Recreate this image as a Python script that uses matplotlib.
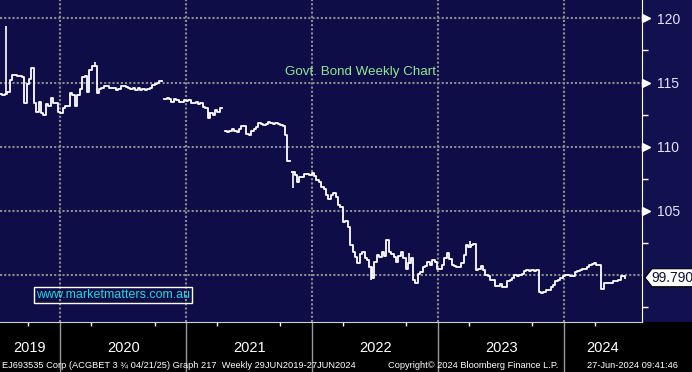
import matplotlib
matplotlib.use("Agg")
import matplotlib.pyplot as plt
import matplotlib.dates as mdates
import matplotlib.transforms as mtransforms
from matplotlib.patches import Polygon, Rectangle
import numpy as np
import pandas as pd

nan = np.nan

# weekly closes, NaN = break in the line
y2019 = [114.1, 114.1, 114.1, 114.0, 114.1, 114.3, 115.2, 115.6, 115.6, 115.5,
         115.5, 115.4, 113.4, 114.85, 115.3, 116.1, 113.4, 112.7, 113.5, 112.6,
         112.5, 113.3, 113.2, 113.8, 113.4, 113.4, 112.7]
y2020 = [112.6, 113.05, 113.2, 113.2, 114.2, 114.0, 113.2, 114.0, 114.5, 115.4,
         115.5, 114.3, 115.95, 116.3, 116.3, 114.2, 114.5, 114.6, 114.7, 114.7,
         114.6, 114.6, 114.6, 114.4, 114.5, 114.7, 114.7, 114.65, 114.6, 114.5,
         114.6, 114.4, 114.6, 114.4, 114.5, 114.4, 114.5, 114.6, 114.8, 114.9,
         115.0, 115.1, nan, 113.75, 113.8, 113.75, 113.5, 113.7, 113.6, 113.5,
         113.5, 113.6]
y2021 = [113.55, 113.6, 113.4, 113.4, 113.5, 113.35, 113.4, 113.1, 113.0, 112.2,
         112.6, 112.5, 112.85, 112.7, 113.0, nan, 111.2, 111.15, 111.2, 111.4,
         111.2, 111.15, 111.4, 111.6, 111.6, 110.95, 110.9, 111.2, 111.4, 111.5,
         111.85, 111.8, 111.7, 111.75, 111.9, 111.85, 111.75, 111.85, 111.8, 111.7,
         111.6, 110.9, 108.9, nan, 108.0, 107.8, 107.25, 107.65, 107.65, 107.9,
         107.85, 107.8]
y2022 = [107.95, 107.7, 107.4, 107.25, 106.85, 106.7, 106.2, 105.95, 106.2, 106.4,
         106.1, 105.45, 105.3, 104.15, 104.2, 103.75, 102.35, 101.8, 101.4, 100.9,
         101.6, 101.8, 101.3, 101.2, 100.6, 99.75, 101.05, 101.55, 101.4, 101.8,
         101.5, 102.7, 101.8, 101.65, 101.4, 101.05, 101.5, 101.8, 101.3, 100.5,
         100.9, 101.3, 99.6, 99.35, 100.1, 100.25, 100.6, 100.7, 101.05, 100.8,
         101.15, 101.05]
y2023 = [100.45, 100.45, 100.8, 101.3, 101.75, 101.25, 100.8, 100.7, 100.6, 100.65,
         100.9, 101.55, 102.35, 102.2, 102.35, 102.45, 100.4, 100.5, 100.7, 100.4,
         100.0, 99.9, 99.65, 99.6, 99.15, 99.15, 99.3, 99.1, 99.05, 99.5,
         99.6, 99.75, 100.0, 99.95, 100.0, 100.05, 100.35, 100.4, 100.35, 100.4,
         100.35, 100.4, 98.7, 98.6, 98.65, 98.8, 98.85, 99.05, 99.2, 99.5,
         99.6, 99.8]
y2024 = [99.9, 100.0, 100.0, 99.95, 99.95, 100.2, 100.35, 100.4, 100.45, 100.5,
         100.6, 100.8, 100.85, 100.9, 100.8, 100.75, 98.95, 99.35, 99.35, 99.4,
         99.4, 99.5, 99.55, 99.6, 99.9, 99.9, 99.79]

# intra-week extremes that stick out of the line (week index, low, high)
wick_week = [4, 41, 88, 123, 155, 171, 196]
wick_lo = [114.1, 116.3, 112.2, 106.8, 99.6, 100.9, 102.2]
wick_hi = [119.4, 116.6, 112.7, 108.0, 100.6, 101.7, 102.65]

closes = np.array(y2019 + y2020 + y2021 + y2022 + y2023 + y2024)
dates = pd.date_range(end="2024-06-27", periods=len(closes), freq="7D")
years = [2019, 2020, 2021, 2022, 2023, 2024]
yticks = [100, 105, 110, 115, 120]
ylabels = ["", "105", "110", "115", "120"]

NAVY = "#0e0d48"
NAVY2 = "#121150"
SANS = ["Liberation Sans", "DejaVu Sans"]

fig = plt.figure(figsize=(6.92, 3.72), dpi=100, facecolor="black")
ax = fig.add_axes([0, 50 / 372, 642 / 692, 322 / 372], facecolor=NAVY)
fig.add_artist(Rectangle((642 / 692, 50 / 372), 50 / 692, 322 / 372,
                         transform=fig.transFigure, facecolor=NAVY2,
                         edgecolor="none", zorder=-5))

ax.step(dates, closes, where="post", color="white", lw=1.3, zorder=3)
wick_x = dates[wick_week] + pd.Timedelta(days=3)
ax.vlines(wick_x, wick_lo, wick_hi, color="white", lw=1.2, zorder=3)

ax.set_xlim(pd.Timestamp("2019-07-11"), pd.Timestamp("2024-08-14"))
ax.set_ylim(96.34, 121.43)

# grid + axes
ax.xaxis.set_major_locator(mdates.YearLocator())
ax.xaxis.set_minor_locator(mdates.MonthLocator(bymonth=[4, 10]))
ax.grid(True, which="major", color="#8c8c8c", linestyle=(0, (1, 1)), lw=1.5)
ax.tick_params(axis="x", which="major", length=40, width=1, color="#9a9a9a",
               labelbottom=False)
ax.tick_params(axis="x", which="minor", length=3, width=1, color="white")

ax.yaxis.tick_right()
ax.set_yticks(yticks)
ax.set_yticklabels(ylabels, family=SANS)
ax.set_yticks(np.arange(97.5, 120, 5), minor=True)
ax.tick_params(axis="y", which="major", length=0, pad=11,
               labelcolor="#e4e4ff", labelsize=10)
ax.tick_params(axis="y", which="minor", length=4, width=1, color="white")

for s in ["top", "left"]:
    ax.spines[s].set_visible(False)
ax.spines["right"].set_color("white")
ax.spines["bottom"].set_color("#d0d0d0")

ytrans = mtransforms.blended_transform_factory(ax.transAxes, ax.transData)
ax.plot([1 + 4 / 642] * 4, yticks[1:], transform=ytrans, ls="none",
        marker=">", ms=6, color="white", clip_on=False, zorder=5)

# year labels centred in the visible part of each year
xtrans = mtransforms.blended_transform_factory(ax.transData, ax.transAxes)
x0, x1 = ax.get_xlim()
for yr in years:
    a = max(mdates.date2num(pd.Timestamp(f"{yr}-01-01")), x0)
    b = min(mdates.date2num(pd.Timestamp(f"{yr + 1}-01-01")), x1)
    ax.text((a + b) / 2, -0.082, str(yr), transform=xtrans, ha="center",
            va="center", color="white", fontsize=10.5, family=SANS)

ax.text(0.561, 0.776, "Govt. Bond Weekly Chart", transform=ax.transAxes,
        ha="center", va="center", color="#92e692", fontsize=9.6, family=SANS)
ax.text(0.056, 0.084, "www.marketmatters.com.au", transform=ax.transAxes,
        ha="left", va="center", color="#22d6de", fontsize=9, family=SANS,
        bbox=dict(boxstyle="square,pad=0.15", facecolor="none",
                  edgecolor="white", lw=1))

# last value tag
fig.canvas.draw()
px, py = ytrans.transform((1.0, closes[-1]))
ident = mtransforms.IdentityTransform()
tag = [(px + 3, py), (px + 10, py + 9), (px + 52, py + 9), (px + 52, py - 9),
       (px + 10, py - 9)]
fig.add_artist(Polygon(tag, closed=True, transform=ident, facecolor="white",
                       edgecolor="black", lw=0.8, zorder=6))
fig.text(px + 9, py, f"{closes[-1]:.3f}", transform=ident, ha="left",
         va="center", color="#101030", fontsize=10, family=SANS, zorder=7)

foot = dict(va="center", color="white", fontsize=6.7, family=SANS)
fig.text(2 / 692, 7 / 372, "EJ693535 Corp (ACGBET 3 \u00be 04/21/25) Graph 217  "
         "Weekly 29JUN2019-27JUN2024", ha="left", **foot)
fig.text(388 / 692, 7 / 372, "Copyright\u00a9 2024 Bloomberg Finance L.P.",
         ha="left", **foot)
fig.text(678 / 692, 7 / 372, "27-Jun-2024 09:41:46", ha="right", **foot)

fig.savefig("out.png", dpi=100, facecolor=fig.get_facecolor())
